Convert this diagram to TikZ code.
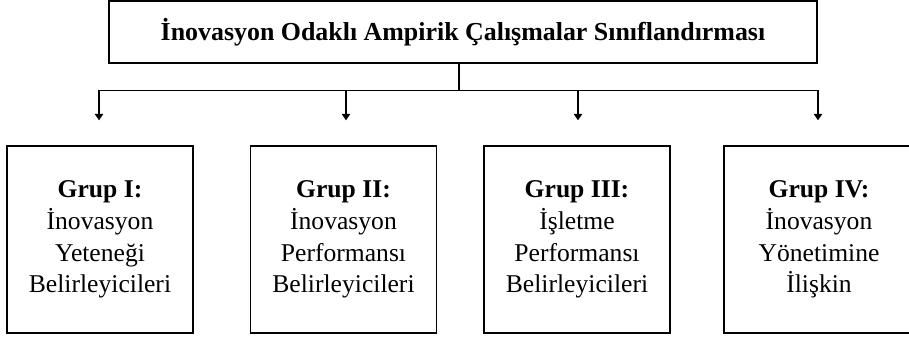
\documentclass[tikz,border=0pt]{standalone}
\usepackage{fontspec}
\setmainfont{Liberation Serif}
\usetikzlibrary{arrows.meta,calc}
\begin{document}
\begin{tikzpicture}[x=1bp,y={(0,-1bp)},
  boxstyle/.style={draw,line width=1.4bp,inner sep=0pt},
  topbox/.style={boxstyle,minimum width=708bp,minimum height=62bp,font=\fontsize{26}{30}\selectfont\bfseries},
  grpbox/.style={boxstyle,minimum width=186bp,minimum height=187bp,align=center,font=\fontsize{25.7}{31.7}\selectfont},
  conn/.style={line width=1.4bp},
  arr/.style={conn,-{Triangle[length=6.5bp,width=8.5bp]}}]
\useasboundingbox (0,0) rectangle (909,337);
\node[topbox] (top) at (463,32) {İnovasyon Odaklı Ampirik Çalışmalar Sınıflandırması};
\node[grpbox] (g1) at (100,239.5) {\textbf{Grup I:}\\İnovasyon\\Yeteneği\\Belirleyicileri};
\node[grpbox] (g2) at (343.5,239.5) {\textbf{Grup II:}\\İnovasyon\\Performansı\\Belirleyicileri};
\node[grpbox] (g3) at (577,239.5) {\textbf{Grup III:}\\İşletme\\Performansı\\Belirleyicileri};
\node[grpbox,minimum width=190bp] (g4) at (819,239.5) {\textbf{Grup IV:}\\İnovasyon\\Yönetimine\\İlişkin};
\coordinate (j) at (459,90.7);
\coordinate (a1) at ($(g1.north)+(-1,-25)$);
\coordinate (a2) at ($(g2.north)+(2.5,-25)$);
\coordinate (a3) at ($(g3.north)+(1,-25)$);
\coordinate (a4) at ($(g4.north)+(-1,-25)$);
\draw[conn] (top.south -| j) -- (j);
\draw[arr] (j) -| (a1);
\draw[arr] (j) -| (a2);
\draw[arr] (j) -| (a3);
\draw[arr] (j) -| (a4);
\end{tikzpicture}
\end{document}
